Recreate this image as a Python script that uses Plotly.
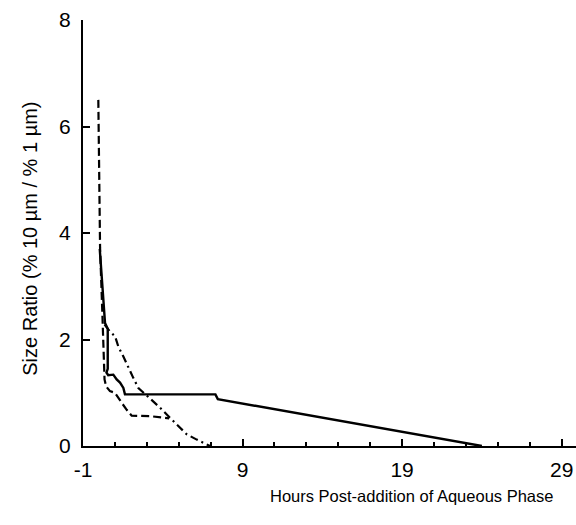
import plotly.graph_objects as go

# Data
solid_x = [0.05, 0.17, 0.38, 0.55, 0.55, 0.47, 0.58, 0.9, 1.11, 1.32, 1.53, 1.63, 7.3, 7.45, 24.0]
solid_y = [3.7, 3.12, 2.31, 2.2, 1.45, 1.38, 1.33, 1.34, 1.25, 1.19, 1.09, 0.97, 0.97, 0.88, 0.0]

dashed_x = [-0.04, 0.0, 0.07, 0.2, 0.27, 0.3, 0.35, 0.45, 0.69, 1.0, 1.21, 1.43, 1.74, 2.05, 3.2, 4.1, 4.4]
dashed_y = [6.5, 5.4, 3.72, 2.6, 2.05, 1.6, 1.25, 1.12, 1.03, 1.0, 0.9, 0.81, 0.68, 0.57, 0.56, 0.53, 0.52]

dashdot_x = [0.35, 0.69, 1.01, 1.21, 1.53, 1.84, 2.15, 2.47, 3.2, 3.83, 4.45, 5.08, 5.5, 6.13, 6.96]
dashdot_y = [2.28, 2.15, 2.06, 1.87, 1.68, 1.47, 1.28, 1.09, 0.90, 0.72, 0.53, 0.34, 0.22, 0.12, 0.0]

x_ticks = [-1, 9, 19, 29]
y_ticks = [0, 2, 4, 6, 8]

FONT = "Arial, Liberation Sans, Helvetica, sans-serif"

W, H = 576, 525
L, T, B = 83, 20, 78.5
PW, PH = W - L, H - T - B

fig = go.Figure()
fig.add_trace(go.Scatter(x=solid_x, y=solid_y, mode="lines",
                         line=dict(color="black", width=2.4)))
fig.add_trace(go.Scatter(x=dashed_x, y=dashed_y, mode="lines",
                         line=dict(color="black", width=2.2, dash="8px,4px")))
fig.add_trace(go.Scatter(x=dashdot_x, y=dashdot_y, mode="lines",
                         line=dict(color="black", width=2.2, dash="8px,4px,2px,4px")))

fig.update_layout(
    width=W, height=H,
    margin=dict(l=L, r=0, t=T, b=B),
    paper_bgcolor="white", plot_bgcolor="white",
    showlegend=False,
    font=dict(family=FONT, color="black"),
    xaxis=dict(range=[-1, 29.9], tickvals=x_ticks, ticktext=[str(v) for v in x_ticks],
               ticks="inside", ticklen=7, tickwidth=1.5, tickcolor="black",
               minor=dict(tick0=-1, dtick=2, ticks="inside", ticklen=4, tickwidth=1.5, tickcolor="black"),
               showline=True, linecolor="black", linewidth=2, showgrid=False, zeroline=False,
               tickfont=dict(size=21), ticklabelstandoff=4, ticklabeloverflow="allow"),
    yaxis=dict(range=[0, 8], tickvals=y_ticks,
               ticks="inside", ticklen=7, tickwidth=1.5, tickcolor="black",
               showline=True, linecolor="black", linewidth=2, showgrid=False, zeroline=False,
               tickfont=dict(size=21), ticklabelstandoff=6, ticklabeloverflow="allow"),
    annotations=[
        dict(text="Hours Post-addition of Aqueous Phase", xref="paper", yref="paper",
             x=(411 - L) / PW, y=(T + PH - 497) / PH, xanchor="center", yanchor="middle",
             showarrow=False, font=dict(size=16.5)),
        dict(text="Size Ratio (% 10 µm / % 1 µm)", xref="paper", yref="paper",
             x=(30 - L) / PW, y=(T + PH - 239) / PH, xanchor="center", yanchor="middle",
             showarrow=False, textangle=-90, font=dict(size=20)),
    ],
)

fig.write_html("out.html",
               config={"displayModeBar": False},
               post_script="document.body.style.margin='0';document.body.style.overflow='hidden';")
